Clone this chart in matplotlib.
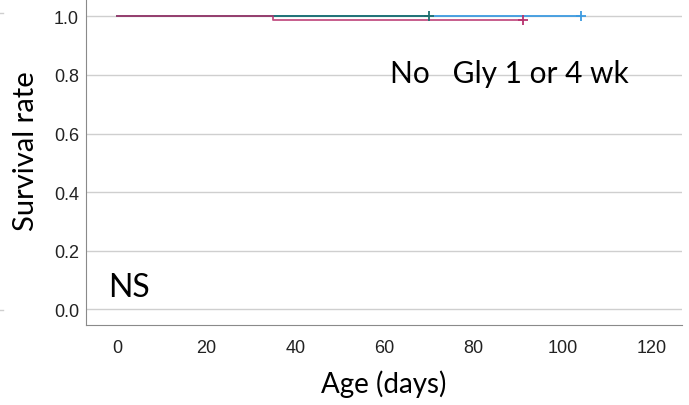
import matplotlib.pyplot as plt
from matplotlib.lines import Line2D

# Kaplan-Meier step data per group (age in days, survival)
no_gly_t = [0, 70, 104]
no_gly_s = [1.0, 1.0, 1.0]
gly1_t = [0, 70]
gly1_s = [1.0, 1.0]
gly4_t = [0, 35, 91]
gly4_s = [1.0, 0.989, 0.989]

# censored points
cens_t = [70, 104, 91]
cens_s = [1.0, 1.0, 0.989]

x_ticks = [0, 20, 40, 60, 80, 100, 120]
y_ticks = [0.0, 0.2, 0.4, 0.6, 0.8, 1.0]

blue = '#3d9be0'
teal = '#1f6f6f'
magenta = '#b8326e'

fig = plt.figure(figsize=(6.89, 4.06), dpi=100)
ax = fig.add_axes([86 / 689, 80 / 406, 596 / 689, 326 / 406])

ax.step(no_gly_t, no_gly_s, where='post', color=blue, lw=1.3, zorder=3)
ax.step(gly1_t, gly1_s, where='post', color=teal, lw=1.3, zorder=4)
ax.step(gly4_t, gly4_s, where='post', color=magenta, lw=1.3, zorder=5, alpha=0.85)

for t, s, c in zip(cens_t, cens_s, [teal, blue, magenta]):
    ax.plot(t, s, marker='+', color=c, ms=7, mew=1.3, zorder=6)

ax.set_xlim(-6.95, 126.7)
ax.set_ylim(-0.053, 1.059)
ax.set_xticks(x_ticks)
ax.set_yticks(y_ticks)
ax.set_yticklabels(['%.1f' % v for v in y_ticks])
ax.tick_params(length=0, labelsize=13, colors='#222222')
ax.tick_params(axis='y', pad=5)
ax.tick_params(axis='x', pad=10)
for lab in ax.get_xticklabels() + ax.get_yticklabels():
    lab.set_family('Liberation Sans')

ax.grid(axis='y', color='#cfcfcf', lw=1)
ax.set_axisbelow(True)
ax.spines['top'].set_visible(False)
ax.spines['right'].set_visible(False)
ax.spines['left'].set_color('#8a8a8a')
ax.spines['bottom'].set_color('#8a8a8a')

ax.set_ylabel('Survival rate', fontsize=21, family='Lato')
ax.yaxis.set_label_coords(-0.079, 0.535)
ax.set_xlabel('Age (days)', fontsize=20, family='Lato', labelpad=10)

ax.text(61.2, 0.776, 'No   Gly 1 or 4 wk', fontsize=21.5, family='Lato', va='baseline')
ax.text(-2.0, 0.045, 'NS', fontsize=23, family='Lato', va='baseline')

# stray grid fragments from the neighbouring panel on the left edge
fig.add_artist(Line2D([0, 0.005], [1 - 14 / 406, 1 - 14 / 406], color='#cfcfcf', lw=1))
fig.add_artist(Line2D([0, 0.005], [1 - 311 / 406, 1 - 311 / 406], color='#cfcfcf', lw=1))

fig.savefig('out.png', dpi=100)
